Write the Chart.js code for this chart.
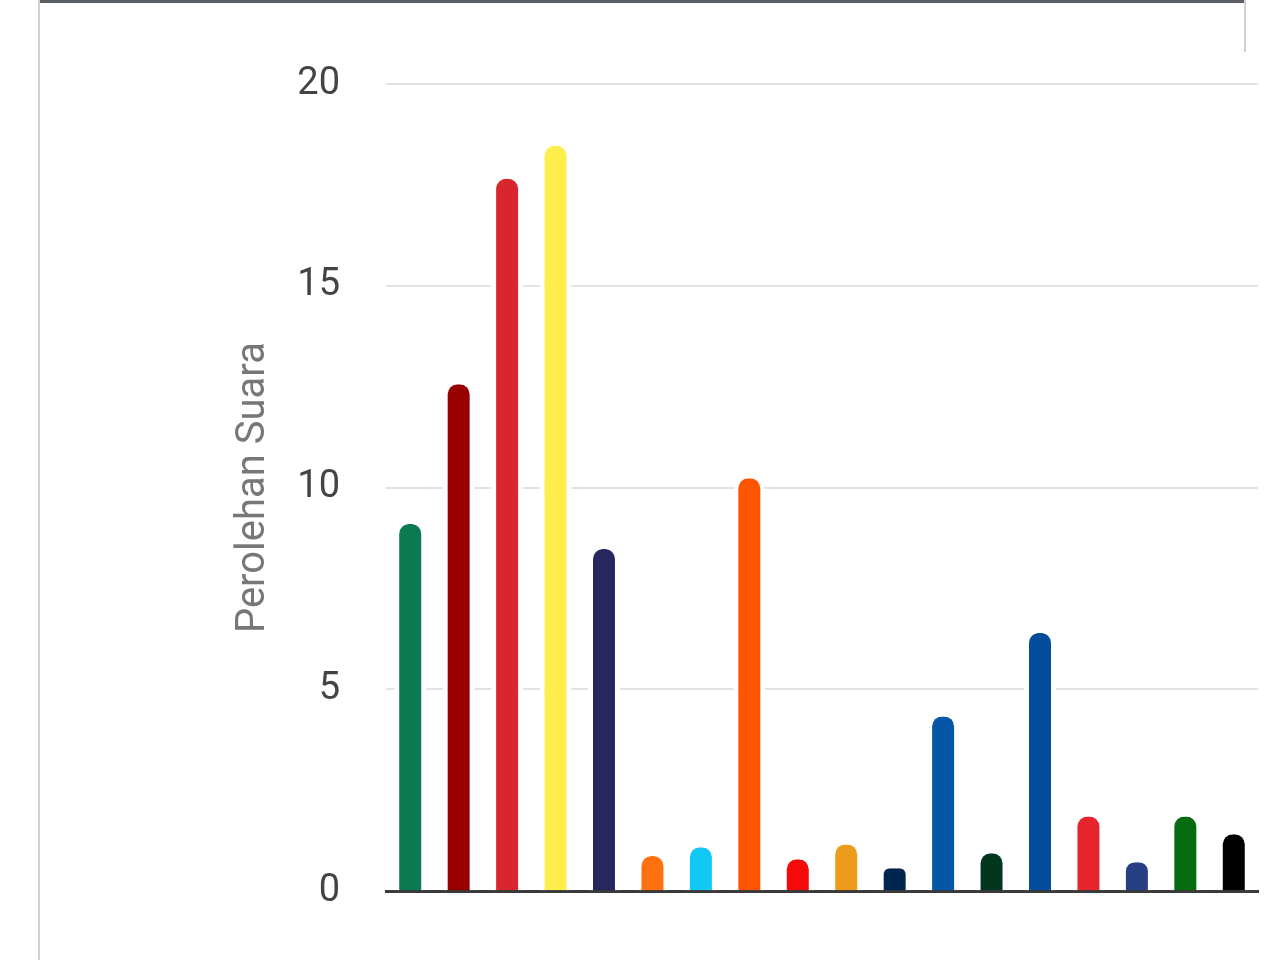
<!DOCTYPE html>
<html>
<head>
<meta charset="utf-8">
<title>Perolehan Suara</title>
<script src="https://cdn.jsdelivr.net/npm/chart.js@4.4.1/dist/chart.umd.min.js"></script>
<style>
  html, body { margin: 0; padding: 0; background: #fff; }
  #wrap { position: relative; width: 1280px; height: 960px; overflow: hidden; }
  #frameLeft { position: absolute; left: 38px; top: 0; width: 2px; height: 960px; background: #d2d2d2; }
  #frameTop { position: absolute; left: 40px; top: 0; width: 1205px; height: 3px; background: #5b6066; }
  #frameRight { position: absolute; left: 1244px; top: 0; width: 2px; height: 52px; background: #d2d2d2; }
  canvas { position: absolute; left: 0; top: 0; }
</style>
</head>
<body>
<div id="wrap">
  <canvas id="chart" width="1280" height="960"></canvas>
  <div id="frameLeft"></div>
  <div id="frameTop"></div>
  <div id="frameRight"></div>
</div>
<script>
// partai peserta (urutan nomor urut)
const categories = ['PKB', 'Gerindra', 'PDI-P', 'Golkar', 'NasDem', 'Partai Buruh', 'Gelora', 'PKS', 'PKN',
  'Hanura', 'Garuda', 'PAN', 'PBB', 'Demokrat', 'PSI', 'Perindo', 'PPP', 'Ummat'];
const votes = [9.1, 12.56, 17.65, 18.47, 8.48, 0.87, 1.09, 10.23, 0.79,
  1.16, 0.57, 4.33, 0.94, 6.4, 1.85, 0.72, 1.85, 1.41];
const barColors = ['#0a7a50', '#990000', '#d9262e', '#fdee4c', '#27275f', '#ff7011', '#12c8f5', '#ff5500', '#f40a0a',
  '#ec9b1a', '#00264e', '#0656a8', '#03361e', '#034d9c', '#e5242c', '#273f85', '#076c10', '#000000'];
const yTicks = [0, 5, 10, 15, 20];

const ctx = document.getElementById('chart');
new Chart(ctx, {
  type: 'bar',
  data: {
    labels: categories,
    datasets: [{
      label: 'Perolehan Suara',
      data: votes,
      backgroundColor: barColors,
      borderColor: '#ffffff',
      borderWidth: { left: 5, right: 5, top: 0, bottom: 0 },
      borderRadius: { topLeft: 15, topRight: 15, bottomLeft: 0, bottomRight: 0 },
      borderSkipped: 'bottom',
      barPercentage: 0.66,
      categoryPercentage: 1
    }]
  },
  options: {
    responsive: false,
    animation: false,
    layout: { padding: { left: 200, right: 22, top: 84, bottom: 67 } },
    plugins: {
      legend: { display: false },
      tooltip: { enabled: false }
    },
    scales: {
      x: {
        grid: { display: false, drawTicks: false },
        border: { display: true, color: '#3a3a3a', width: 3 },
        ticks: { display: false }
      },
      y: {
        min: 0,
        max: 20,
        afterBuildTicks: (scale) => { scale.ticks = yTicks.map(v => ({ value: v })); },
        afterFit: (scale) => { scale.width = 186; },
        grid: { color: '#e3e3e3', lineWidth: 2, drawTicks: false },
        border: { display: false },
        ticks: {
          padding: 46,
          color: '#444444',
          font: { family: 'Roboto', size: 38 }
        },
        title: {
          display: true,
          text: 'Perolehan Suara',
          color: '#777777',
          font: { family: 'Roboto', size: 40 },
          padding: { top: 30, bottom: 0 }
        }
      }
    }
  }
});
</script>
</body>
</html>
